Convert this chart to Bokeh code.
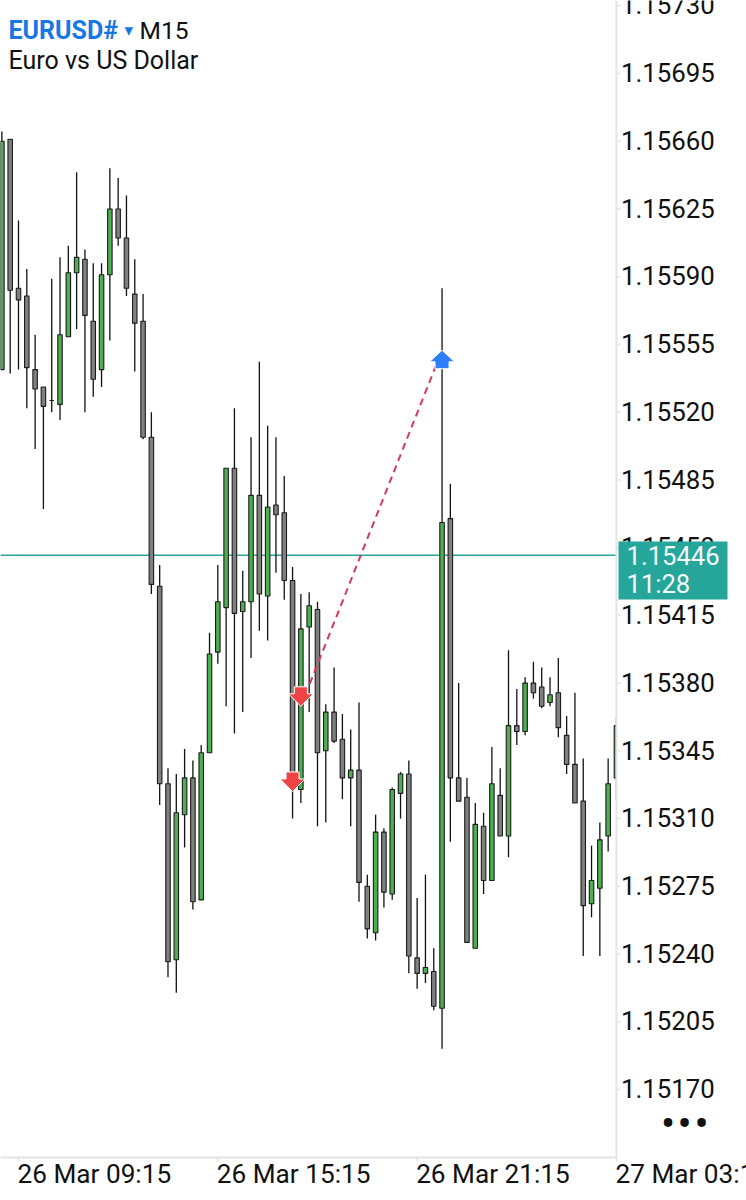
from bokeh.plotting import figure
from bokeh.embed import file_html
from bokeh.resources import INLINE
from bokeh.core.properties import value
from bokeh.models import ColumnDataSource, Range1d

# Prices in 1e-5 units (115542 = 1.15542); candle index 0 = 26 Mar 09:15, 15 minutes each
first_index = -2
opens = [115542,115661,115584,115580,115542,115533,115526,115524,115559,115592,115599,115567,115542,115591,115625,115610,115581,115567,115507,115430,115328,115237,115312,115331,115268,115344,115396,115419,115491,115417,115422,115477,115425,115472,115468,115433,115325,115409,115418,115345,115365,115351,115331,115335,115275,115251,115303,115271,115323,115333,115238,115230,115231,115212,115465,115331,115321,115243,115306,115278,115322,115301,115358,115355,115380,115378,115370,115375,115353,115338,115319,115266,115274,115301,115331]
highs = [115665,115661,115619,115594,115560,115533,115589,115600,115606,115644,115604,115597,115597,115646,115641,115632,115599,115581,115520,115441,115336,115333,115346,115340,115348,115406,115441,115491,115522,115438,115507,115546,115513,115507,115487,115440,115426,115427,115422,115369,115388,115364,115356,115370,115281,115312,115305,115326,115334,115340,115269,115281,115243,115584,115483,115380,115331,115318,115313,115347,115336,115397,115377,115383,115391,115388,115383,115393,115363,115375,115341,115296,115308,115341,115362]
lows = [115542,115540,115542,115522,115501,115470,115520,115516,115559,115563,115520,115528,115533,115557,115606,115580,115541,115506,115426,115317,115228,115220,115295,115263,115268,115344,115390,115368,115354,115365,115393,115407,115402,115437,115423,115310,115318,115365,115306,115308,115349,115320,115306,115267,115248,115247,115264,115268,115310,115230,115222,115225,115211,115191,115298,115319,115246,115243,115271,115278,115301,115290,115348,115353,115372,115367,115368,115352,115333,115318,115239,115259,115239,115293,115320]
closes = [115660,115583,115578,115543,115532,115523,115526,115560,115592,115600,115570,115537,115591,115625,115610,115584,115566,115507,115431,115328,115236,115313,115331,115267,115344,115395,115422,115491,115416,115422,115477,115426,115471,115467,115433,115328,115408,115420,115344,115365,115350,115331,115335,115277,115253,115303,115272,115325,115333,115239,115230,115233,115213,115463,115331,115319,115246,115307,115278,115328,115301,115358,115355,115380,115375,115368,115374,115357,115338,115318,115265,115278,115299,115328,115358]

time_ticks = [0, 24, 48, 72]
time_labels = ["26 Mar 09:15", "26 Mar 15:15", "26 Mar 21:15", "27 Mar 03:15"]
price_ticks = [115170 + 35 * k for k in range(17)]

current_price = 115446
countdown = "11:28"

# Trade markers: candle index, price
sell_deals = [(34, 115368), (33, 115324)]
buy_deals = [(51, 115552)]
trade_line = ([34, 51], [115368, 115552])

GREEN = "#4CAF50"
GREY = "#808080"
OUTLINE = "#1c1c1c"
TEAL = "#26A69A"
RED = "#EF4444"
BLUE = "#2E7FFF"
AXIS = "#E4E4E4"
INK = "#111111"
LINK = "#1976E6"

scale = 1e-5
W, H = 746, 1200
px_per_candle = 8.305
px_per_price = 193520.0
x0 = -18 / px_per_candle
x1 = x0 + W / px_per_candle
y_top = 1.1573272
y_bot = y_top - H / px_per_price
px_x = 1 / px_per_candle
px_y = 1 / px_per_price
axis_x = time_ticks[-1]              # the price axis stands at the last time tick
axis_y = y_top - 1157 * px_y


def X(px):
    return x0 + px * px_x


def Y(py):
    return y_top - py * px_y


p = figure(width=W, height=H, output_backend="svg", toolbar_location=None,
           x_range=Range1d(x0, x1), y_range=Range1d(y_bot, y_top),
           x_axis_location=None, y_axis_location=None,
           min_border=0, background_fill_color="white", border_fill_color="white",
           outline_line_color=None)
p.grid.visible = False

idx = list(range(first_index, first_index + len(opens)))
src = ColumnDataSource(dict(
    x=idx,
    o=[v * scale for v in opens], h=[v * scale for v in highs],
    l=[v * scale for v in lows], c=[v * scale for v in closes],
    fill=[GREEN if c > o else GREY for o, c in zip(opens, closes)],
))

# current price line
p.line([x0, axis_x], [current_price * scale] * 2, line_color=TEAL, line_width=1.5)

# candles
p.segment("x", "h", "x", "l", source=src, line_color=INK, line_width=1.3)
p.vbar(x="x", width=0.54, top="c", bottom="o", source=src, fill_color="fill", line_color=OUTLINE, line_width=1.1)

# dashed link between the trades
p.line(trade_line[0], [v * scale for v in trade_line[1]],
       line_color="#D63A55", line_width=2, line_dash="7 5")


def arrow(i, price, down, sw, hw, head, shaft):
    s = -1 if down else 1
    xs = [i, i + hw * px_x, i + sw * px_x, i + sw * px_x, i - sw * px_x, i - sw * px_x, i - hw * px_x]
    t = price * scale
    yb = t - s * head * px_y
    ye = yb - s * shaft * px_y
    ys = [t, yb, yb, ye, ye, yb, yb]
    return xs, ys


for i, pr in sell_deals:
    xs, ys = arrow(i, pr, True, 6.5, 12.5, 12.5, 7)
    p.patch(xs, ys, fill_color=RED, line_color="white", line_width=1)
for i, pr in buy_deals:
    xs, ys = arrow(i, pr, False, 7, 12.5, 11.5, 7)
    p.patch(xs, ys, fill_color=BLUE, line_color="white", line_width=1)

# panels of the two axes cover what runs past the chart
p.quad(left=[axis_x], right=[x1], top=[y_top], bottom=[y_bot], fill_color="white", line_color=None)
p.quad(left=[x0], right=[x1], top=[axis_y], bottom=[y_bot], fill_color="white", line_color=None)

# axis lines and ticks
p.line([axis_x, axis_x], [y_top, axis_y], line_color=AXIS, line_width=2)
p.line([x0, axis_x], [axis_y, axis_y], line_color=AXIS, line_width=2)
price_vals = [v * scale for v in price_ticks]
p.segment(x0=[axis_x] * len(price_vals), x1=[axis_x + 4 * px_x] * len(price_vals),
          y0=price_vals, y1=price_vals, line_color=AXIS, line_width=1.5)
p.segment(x0=time_ticks, x1=time_ticks, y0=[axis_y] * 4, y1=[axis_y - 4 * px_y] * 4,
          line_color=AXIS, line_width=1.5)


def txt(xs, ys, texts, size, color=INK, style="normal", font="Roboto", align="left"):
    p.text(x=xs, y=ys, text=texts, text_font=value(font), text_font_size=value(f"{size}px"),
           text_color=color, text_font_style=style, text_align=align, text_baseline="middle")


txt([X(620.5)] * len(price_vals), [v + 0.8 * px_y for v in price_vals], [f"{v:.5f}" for v in price_vals], 25.8)
txt([t - 1 * px_x for t in time_ticks], [Y(1173)] * 4, time_labels, 26.2)

# price badge
p.quad(left=[X(618)], right=[X(727)], top=[Y(541)], bottom=[Y(599)], fill_color=TEAL, line_color=None)
txt([X(626)], [current_price * scale], [f"{current_price * scale:.5f}"], 25.6, "#F4FBFA")
txt([X(626)], [Y(583)], [countdown], 25.6, "#F4FBFA")

# header
txt([X(8)], [Y(30)], ["EURUSD#"], 25, LINK, "bold")
txt([X(124)], [Y(29)], ["▾"], 17, LINK, font="DejaVu Sans")
txt([X(139)], [Y(30)], ["M15"], 24.5)
txt([X(8)], [Y(60)], ["Euro vs US Dollar"], 25)

# more-menu dots
txt([X(667.5), X(684), X(701)], [Y(1123)] * 3, ["•"] * 3, 42, align="center")

open("out.html", "w").write(file_html(p, INLINE))
